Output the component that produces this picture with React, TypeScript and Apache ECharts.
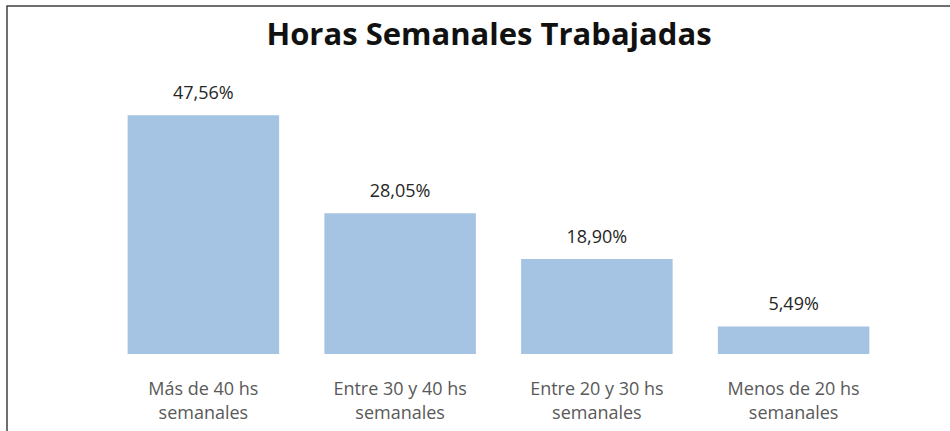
import React, { useEffect, useRef } from "react";
import * as echarts from "echarts";

const categories = [
  "Más de 40 hs\nsemanales",
  "Entre 30 y 40 hs\nsemanales",
  "Entre 20 y 30 hs\nsemanales",
  "Menos de 20 hs\nsemanales",
];
const values = [47.56, 28.05, 18.9, 5.49];
const titleText = "Horas Semanales Trabajadas";

export default function App() {
  const ref = useRef<HTMLDivElement>(null);
  useEffect(() => {
    if (!ref.current) return;
    const chart = echarts.init(ref.current, null, { renderer: "svg" });
    chart.setOption({
      animation: false,
      backgroundColor: "#ffffff",
      title: {
        text: titleText,
        left: 484,
        textAlign: "center",
        top: 12,
        textStyle: {
          fontFamily: "Open Sans",
          fontWeight: "bold",
          fontSize: 31,
          color: "#111111",
        },
      },
      graphic: [
        {
          type: "rect",
          shape: { x: 7, y: 6, width: 980, height: 460 },
          style: { fill: "none", stroke: "#404040", lineWidth: 1.5 },
          silent: true,
        },
      ],
      grid: { left: 105, right: 950 - 892, top: 354 - 251, bottom: 431 - 354, containLabel: false },
      xAxis: {
        type: "category",
        data: categories,
        axisLine: { show: false },
        axisTick: { show: false },
        axisLabel: {
          fontFamily: "Open Sans",
          fontSize: 18,
          color: "#595959",
          lineHeight: 24,
          margin: 22,
          interval: 0,
        },
      },
      yAxis: {
        type: "value",
        min: 0,
        max: 50,
        show: false,
        splitLine: { show: false },
      },
      series: [
        {
          type: "bar",
          data: values,
          barCategoryGap: "23%",
          itemStyle: { color: "#A5C3E2" },
          label: {
            show: true,
            position: "top",
            distance: 14,
            fontFamily: "Open Sans",
            fontSize: 18,
            color: "#262626",
            formatter: (p: any) => p.value.toFixed(2).replace(".", ",") + "%",
          },
        },
      ],
    });
    return () => chart.dispose();
  }, []);
  return (
    <div
      ref={ref}
      style={{ position: "fixed", left: 0, top: 0, width: 950, height: 431 }}
    />
  );
}
